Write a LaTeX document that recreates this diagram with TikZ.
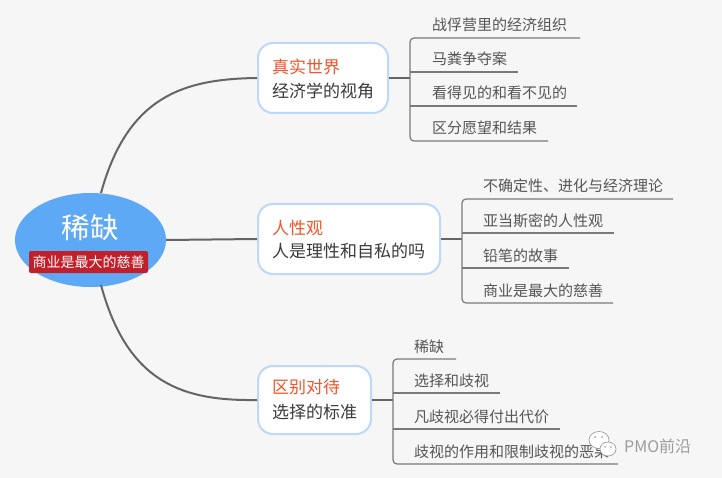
\documentclass[tikz,border=0pt]{standalone}
\usepackage{fontspec}
\setmainfont{Noto Sans CJK SC}
\usetikzlibrary{shapes.geometric}
\definecolor{bg}{HTML}{F6F6F6}
\definecolor{rootblue}{HTML}{5EA9F5}
\definecolor{tagred}{HTML}{C21F2A}
\definecolor{boxline}{HTML}{BDD8F9}
\definecolor{headred}{HTML}{F1552C}
\definecolor{subgray}{HTML}{3A3A3A}
\definecolor{leafgray}{HTML}{555555}
\definecolor{trunkgray}{HTML}{656565}
\definecolor{twiggray}{HTML}{7A7A7A}
\definecolor{wmgray}{HTML}{9C9C9C}
\begin{document}
\begin{tikzpicture}[x=1pt,y=-1pt,
  branch/.style={draw=boxline, line width=2pt, fill=white, rounded corners=15pt, inner sep=0pt, minimum height=70pt},
  headtxt/.style={anchor=base west, text=headred, font=\fontsize{17}{20}\selectfont, inner sep=0pt},
  subtxt/.style={anchor=base west, text=subgray, font=\fontsize{17}{20}\selectfont, inner sep=0pt},
  leaftxt/.style={anchor=base west, text=leafgray, font=\fontsize{15}{18}\selectfont, inner sep=0pt},
  trunk/.style={draw=trunkgray, line width=2pt},
  twig/.style={draw=twiggray, line width=1.2pt, rounded corners=4pt},
  twigs/.style={draw=twiggray, line width=1.2pt}]
\fill[bg] (0,0) rectangle (722,478);
\useasboundingbox (0,0) rectangle (722,478);

% root
\node[ellipse, fill=rootblue, minimum width=151pt, minimum height=94pt, inner sep=0pt] (root) at (90.5,240) {};
\node[text=white, font=\fontsize{28.5}{32}\selectfont, inner sep=0pt] (roottxt) at (90,228) {稀缺};
\node[fill=tagred, rounded corners=2pt, minimum width=119pt, minimum height=22pt, inner sep=0pt, text=white, font=\fontsize{14}{16}\selectfont] (tag) at (88.5,262) {商业是最大的慈善};

% branch boxes
\node[branch, minimum width=130pt] (b1) at (323,78) {};
\node[branch, minimum width=182pt] (b2) at (349,239) {};
\node[branch, minimum width=113pt, minimum height=68pt] (b3) at (314.5,400) {};

\node[headtxt] (b1h) at (272,73.5) {真实世界};
\node[subtxt]  (b1s) at (272,97.5) {经济学的视角};
\node[headtxt] (b2h) at (272,234.5) {人性观};
\node[subtxt]  (b2s) at (272,257.5) {人是理性和自私的吗};
\node[headtxt] (b3h) at (272,393.5) {区别对待};
\node[subtxt]  (b3s) at (272,418.5) {选择的标准};

% trunk connectors
\coordinate (r1) at (101,193);
\coordinate (r3) at (101,285);
\draw[trunk] (r1) .. controls (128,95) and (185,79) .. (b1.west);
\draw[trunk] (root.east) -- (b2.west);
\draw[trunk] (r3) .. controls (128,385) and (185,401) .. (b3.west);

% ---- branch 1 leaves
\coordinate (k1) at (410,78);
\draw[trunk] (b1.east) -- (k1);
\draw[twig] (580,38) -- (410,38) -- (410,141) -- (548,141);
\draw[twigs] (410,72) -- (518,72);
\draw[twigs] (410,106) -- (577,106);
\node[leaftxt] (l11) at (432,31) {战俘营里的经济组织};
\node[leaftxt] (l12) at (432,65) {马粪争夺案};
\node[leaftxt] (l13) at (432,99) {看得见的和看不见的};
\node[leaftxt] (l14) at (432,134) {区分愿望和结果};

% ---- branch 2 leaves
\coordinate (k2) at (462,239);
\draw[trunk] (b2.east) -- (k2);
\draw[twig] (673,199) -- (462,199) -- (462,303) -- (613,303);
\draw[twigs] (462,233) -- (614,233);
\draw[twigs] (462,268) -- (569,268);
\node[leaftxt] (l21) at (483,192) {不确定性、进化与经济理论};
\node[leaftxt] (l22) at (483,226) {亚当斯密的人性观};
\node[leaftxt] (l23) at (483,261) {铅笔的故事};
\node[leaftxt] (l24) at (483,296) {商业是最大的慈善};

% ---- branch 3 leaves
\coordinate (k3) at (393,400);
\draw[trunk] (b3.east) -- (k3);
\draw[twig] (456,359) -- (393,359) -- (393,464) -- (618,464);
\draw[twigs] (393,393) -- (500,393);
\draw[twigs] (393,429) -- (560,429);
\node[leaftxt] (l31) at (414,352) {稀缺};
\node[leaftxt] (l32) at (414,386) {选择和歧视};
\node[leaftxt] (l33) at (414,422) {凡歧视必得付出代价};
\node[leaftxt] (l34) at (414,457) {歧视的作用和限制歧视的恶果};

% watermark
\draw[wmgray, fill=white, line width=0.7pt] (599,440) ellipse [x radius=10pt, y radius=8.5pt];
\draw[wmgray, fill=white, line width=0.7pt] (608,449) ellipse [x radius=8pt, y radius=7pt];
\fill[wmgray] (595,437) circle (1pt) (602,437) circle (1pt) (605,447) circle (0.9pt) (611,447) circle (0.9pt);
\node[text=wmgray, font=\fontsize{16}{19}\selectfont, inner sep=0pt, anchor=west] (wm) at (624,446) {PMO前沿};
\end{tikzpicture}
\end{document}
